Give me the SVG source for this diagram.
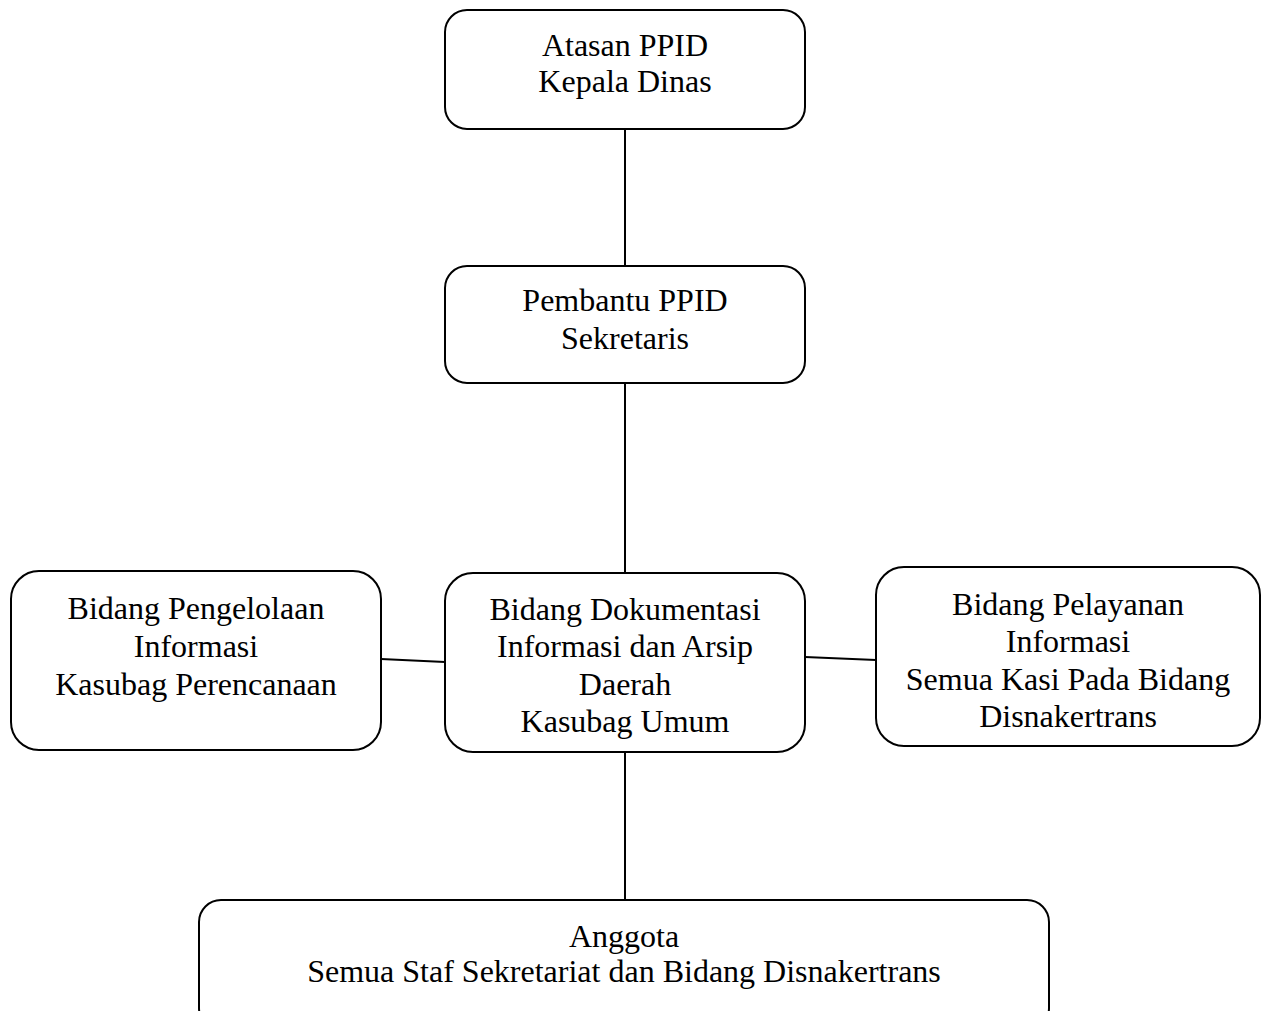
<svg xmlns="http://www.w3.org/2000/svg" width="1262" height="1011" viewBox="0 0 1262 1011">
<style>
.box{fill:#fff;stroke:#000;stroke-width:2}
.t{font-family:"Liberation Serif","Times New Roman",serif;font-size:32px;fill:#000;text-anchor:middle}
.c{stroke:#000;stroke-width:2;fill:none}
</style>
<rect width="1262" height="1011" fill="#fff"/>
<g id="connectors">
<line class="c" x1="625" y1="129" x2="625" y2="266"/>
<line class="c" x1="625" y1="383" x2="625" y2="573"/>
<line class="c" x1="625" y1="752" x2="625" y2="900"/>
<line class="c" x1="381" y1="659" x2="445" y2="662"/>
<line class="c" x1="805" y1="657" x2="876" y2="660"/>
</g>
<g id="atasan">
<rect class="box" x="445" y="10" width="360" height="119" rx="22"/>
<text class="t" x="625" y="56">Atasan PPID</text>
<text class="t" x="625" y="92">Kepala Dinas</text>
</g>
<g id="pembantu">
<rect class="box" x="445" y="266" width="360" height="117" rx="22"/>
<text class="t" x="625" y="311">Pembantu PPID</text>
<text class="t" x="625" y="349">Sekretaris</text>
</g>
<g id="dokumentasi">
<rect class="box" x="445" y="573" width="360" height="179" rx="28"/>
<text class="t" x="625" y="620">Bidang Dokumentasi</text>
<text class="t" x="625" y="657">Informasi dan Arsip</text>
<text class="t" x="625" y="695">Daerah</text>
<text class="t" x="625" y="732">Kasubag Umum</text>
</g>
<g id="pengelolaan">
<rect class="box" x="11" y="571" width="370" height="179" rx="28"/>
<text class="t" x="196" y="619">Bidang Pengelolaan</text>
<text class="t" x="196" y="657">Informasi</text>
<text class="t" x="196" y="695">Kasubag Perencanaan</text>
</g>
<g id="pelayanan">
<rect class="box" x="876" y="567" width="384" height="179" rx="28"/>
<text class="t" x="1068" y="615">Bidang Pelayanan</text>
<text class="t" x="1068" y="652">Informasi</text>
<text class="t" x="1068" y="690">Semua Kasi Pada Bidang</text>
<text class="t" x="1068" y="727">Disnakertrans</text>
</g>
<g id="anggota">
<rect class="box" x="199" y="900" width="850" height="130" rx="22"/>
<text class="t" x="624" y="947">Anggota</text>
<text class="t" x="624" y="982">Semua Staf Sekretariat dan Bidang Disnakertrans</text>
</g>
</svg>
